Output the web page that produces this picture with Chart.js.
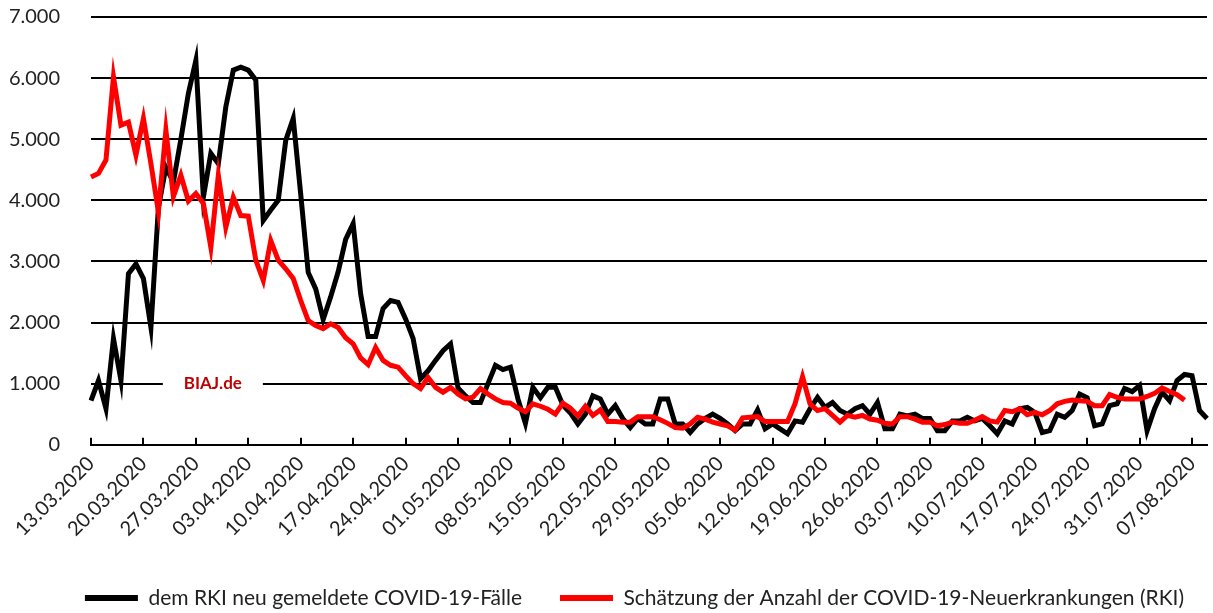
<!DOCTYPE html>
<html>
<head>
<meta charset="utf-8">
<script src="https://cdn.jsdelivr.net/npm/chart.js@4.4.1/dist/chart.umd.min.js"></script>
<style>
  html, body { margin: 0; padding: 0; background: #fff; }
  #wrap { width: 1213px; height: 613px; }
</style>
</head>
<body>
<div id="wrap"><canvas id="chart"></canvas></div>
<script>
// daily values from 13.03.2020
const startDate = [2020, 3, 13];

const rkiReported = [
  720, 1050, 590, 1740, 1050, 2800, 2960, 2720, 1920, 3880,
  4540, 4300, 5000, 5750, 6290, 4050, 4770, 4600, 5530, 6130,
  6180, 6130, 5970, 3670, 3840, 4000, 4980, 5340, 4100, 2820,
  2550, 2050, 2420, 2830, 3360, 3620, 2470, 1770, 1770, 2230,
  2360, 2330, 2060, 1740, 1080, 1210, 1380, 1540, 1650, 930,
  800, 690, 690, 1000, 1300, 1230, 1270, 750, 350, 940,
  770, 940, 940, 650, 520, 340, 500, 800, 750, 500,
  640, 430, 280, 430, 340, 340, 750, 750, 340, 340,
  200, 340, 430, 500, 430, 340, 230, 340, 340, 570,
  260, 340, 260, 180, 390, 370, 590, 775, 610, 690,
  560, 500, 590, 640, 500, 690, 260, 260, 500, 470,
  500, 430, 430, 230, 230, 390, 390, 450, 390, 430,
  310, 180, 390, 340, 590, 610, 530, 200, 230, 500,
  450, 560, 830, 770, 310, 340, 640, 670, 920, 870,
  970, 230, 590, 860, 720, 1050, 1150, 1130, 560, 430
];

const rkiEstimate = [
  4380, 4440, 4660, 6020, 5230, 5280, 4740, 5340, 4600, 3810,
  5150, 4060, 4410, 3990, 4110, 3950, 3230, 4410, 3560, 4050,
  3750, 3740, 3020, 2690, 3340, 3020, 2880, 2720, 2360, 2030,
  1950, 1900, 1980, 1920, 1750, 1650, 1420, 1310, 1590, 1380,
  1300, 1270, 1130, 1000, 920, 1100, 940, 860, 940, 830,
  750, 780, 920, 830, 750, 690, 680, 600, 540, 670,
  630, 580, 500, 680, 600, 470, 630, 480, 570, 380,
  380, 370, 370, 460, 460, 460, 410, 350, 280, 270,
  340, 450, 420, 370, 340, 310, 240, 440, 450, 460,
  380, 380, 380, 380, 670, 1110, 670, 560, 590, 480,
  370, 480, 450, 480, 420, 400, 350, 340, 460, 460,
  420, 370, 370, 310, 330, 370, 350, 350, 400, 460,
  390, 370, 560, 540, 590, 490, 530, 490, 560, 670,
  710, 730, 720, 710, 640, 640, 820, 775, 750, 750,
  750, 790, 840, 930, 870, 820, 730, null, null, null
];

const yTicks = [0, 1000, 2000, 3000, 4000, 5000, 6000, 7000];
const seriesNames = [
  'dem RKI neu gemeldete COVID-19-Fälle',
  'Schätzung der Anzahl der COVID-19-Neuerkrankungen (RKI)'
];
const watermark = 'BIAJ.de';

function pad2(n) { return (n < 10 ? '0' : '') + n; }
const labels = rkiReported.map((_, i) => {
  const d = new Date(startDate[0], startDate[1] - 1, startDate[2] + i);
  return pad2(d.getDate()) + '.' + pad2(d.getMonth() + 1) + '.' + d.getFullYear();
});

function fmt(v) {
  return String(v).replace(/\B(?=(\d{3})+(?!\d))/g, '.');
}

const FONT = 'Lato, "Open Sans", sans-serif';
const LEGEND_SIZE = 21;
const LEGEND_PAD = 38;

const watermarkPlugin = {
  id: 'watermark',
  beforeDatasetsDraw(chart) {
    const { ctx, scales } = chart;
    const cx = scales.x.getPixelForValue(16) + 2;
    const cy = scales.y.getPixelForValue(1000);
    ctx.save();
    ctx.fillStyle = '#fff';
    ctx.fillRect(cx - 50, cy - 4, 100, 8);
    ctx.font = 'bold 17px ' + FONT;
    ctx.fillStyle = '#c00000';
    ctx.textAlign = 'center';
    ctx.textBaseline = 'middle';
    ctx.fillText(watermark, cx, cy);
    ctx.restore();
  }
};

// move the legend row to where the original has it
const legendShift = {
  id: 'legendShift',
  afterLayout(chart) {
    const lg = chart.legend;
    const dy = 598 - (lg.top + LEGEND_PAD + LEGEND_SIZE / 2);
    lg.top += dy;
    lg.bottom += dy;
    lg.left += 27;
    lg.right += 27;
  }
};

new Chart(document.getElementById('chart'), {
  type: 'line',
  data: {
    labels,
    datasets: [
      {
        label: seriesNames[0],
        data: rkiReported,
        borderColor: '#000',
        backgroundColor: '#000',
        borderWidth: 5,
        pointRadius: 0,
        tension: 0,
        order: 1,
      },
      {
        label: seriesNames[1],
        data: rkiEstimate,
        borderColor: '#ff0000',
        backgroundColor: '#ff0000',
        borderWidth: 5,
        pointRadius: 0,
        tension: 0,
        order: 0,
      },
    ],
  },
  options: {
    responsive: true,
    maintainAspectRatio: false,
    animation: false,
    layout: { padding: { left: 8, right: 6, top: 17, bottom: 0 } },
    plugins: {
      tooltip: { enabled: false },
      legend: {
        position: 'bottom',
        labels: {
          font: { family: FONT, size: LEGEND_SIZE },
          color: '#222',
          boxWidth: 53,
          boxHeight: 6,
          padding: LEGEND_PAD,
          sort: (a, b) => a.datasetIndex - b.datasetIndex,
          generateLabels(chart) {
            return Chart.defaults.plugins.legend.labels.generateLabels(chart)
              .map((l) => Object.assign(l, { lineWidth: 0 }));
          },
        },
      },
    },
    scales: {
      x: {
        type: 'category',
        offset: false,
        afterBuildTicks(scale) {
          scale.ticks = scale.ticks.filter((t) => t.value % 7 === 0);
        },
        afterFit(scale) {
          scale.paddingLeft = 0;
          scale.paddingRight = 0;
          scale.height -= 11;
        },
        ticks: {
          autoSkip: false,
          maxRotation: 45,
          minRotation: 45,
          padding: 14,
          color: '#222',
          font: { family: FONT, size: 20 },
        },
        grid: {
          drawOnChartArea: false,
          drawTicks: true,
          tickLength: -7,
          color: '#000',
          lineWidth: 2,
        },
        border: { display: true, color: '#000', width: 2 },
      },
      y: {
        min: 0,
        max: 7000,
        afterBuildTicks(scale) {
          scale.ticks = yTicks.map((v) => ({ value: v }));
        },
        afterFit(scale) {
          scale.paddingTop = 0;
          scale.paddingBottom = 0;
          scale.width = 83;
        },
        ticks: {
          padding: 31,
          color: '#222',
          font: { family: FONT, size: 20 },
          callback: (v) => fmt(v),
        },
        grid: {
          color: '#000',
          lineWidth: 2,
          drawTicks: false,
        },
        border: { display: false },
      },
    },
  },
  plugins: [watermarkPlugin, legendShift],
});
</script>
</body>
</html>
